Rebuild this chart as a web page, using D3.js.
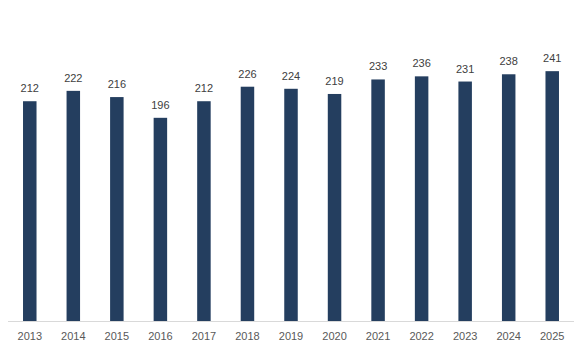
<!DOCTYPE html>
<html><head><meta charset="utf-8">
<script src="https://cdn.jsdelivr.net/npm/d3@7"></script>
<style>body{margin:0;background:#fff;}svg{display:block;font-family:"Liberation Sans",Arial,sans-serif;}</style>
</head><body>
<svg id="c" width="582" height="350"></svg>
<script>
const years = ["2013","2014","2015","2016","2017","2018","2019","2020","2021","2022","2023","2024","2025"];
const values = [212,222,216,196,212,226,224,219,233,236,231,238,241];

const svg = d3.select("#c");
const x = d3.scaleBand().domain(years).range([8, 574]).paddingInner(0.69).paddingOuter(0.345);
const y = d3.scaleLinear().domain([0, 300]).range([321, 10]);

svg.selectAll("rect.bar").data(values).join("rect")
  .attr("class","bar")
  .attr("x",(d,i)=>x(years[i]))
  .attr("width",x.bandwidth())
  .attr("y",d=>y(d))
  .attr("height",d=>y(0)-y(d))
  .attr("fill","#243E5F");

svg.selectAll("text.lbl").data(values).join("text")
  .attr("class","lbl")
  .attr("x",(d,i)=>x(years[i])+x.bandwidth()/2)
  .attr("y",d=>y(d)-9)
  .attr("text-anchor","middle")
  .attr("font-size","11px")
  .attr("fill","#404040")
  .text(d=>d);

const ax = svg.append("g").attr("transform","translate(0,321)")
  .call(d3.axisBottom(x).tickSize(0).tickPadding(11));
ax.select(".domain").attr("stroke","#d9d9d9").attr("d","M8,0.5H574");
ax.selectAll("text").attr("font-size","11px").attr("fill","#595959").attr("font-family","Liberation Sans, Arial, sans-serif");
</script>
</body></html>
